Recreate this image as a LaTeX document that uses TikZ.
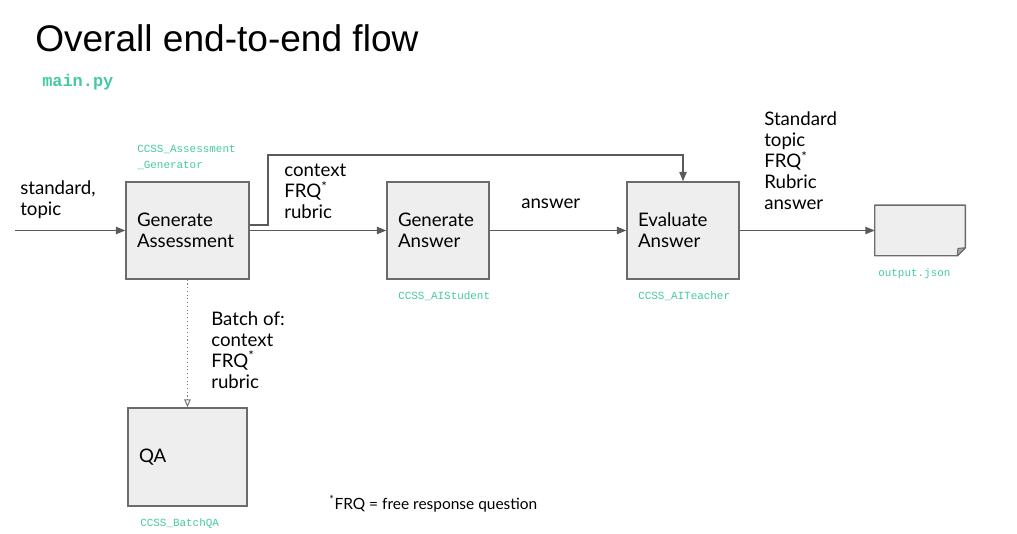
\documentclass[tikz,border=0pt]{standalone}
\usepackage{fontspec}
\setmainfont{Lato}
\newfontfamily\titlefont{Liberation Sans}
\newfontfamily\codefont{Liberation Mono}
\usetikzlibrary{arrows.meta}
\definecolor{codeteal}{HTML}{45C9A2}
\definecolor{boxfill}{HTML}{EEEEEE}
\definecolor{boxline}{HTML}{6B6B6B}
\definecolor{arrowgray}{HTML}{5A5A5A}
\begin{document}
\begin{tikzpicture}[x=0.75pt,y=-0.75pt,
  box/.style={draw=boxline, fill=boxfill, line width=1.1pt, align=left,
    inner xsep=8.25pt, inner ysep=0pt, font=\fontsize{14}{15.75}\selectfont},
  lbl/.style={anchor=base west, inner sep=0pt, align=left,
    font=\fontsize{14}{15.75}\selectfont},
  code/.style={anchor=base west, inner sep=0pt, text=codeteal,
    font=\codefont\fontsize{8.2}{12}\selectfont},
  arr/.style={draw=arrowgray, line width=0.9pt, -{Triangle[length=7pt,width=5.5pt]}},
  dotarr/.style={draw=arrowgray!80, line width=0.8pt, dotted,
    -{Triangle[open,length=6pt,width=5pt]}}
]
\useasboundingbox (0,0) rectangle (1017,534);

% title
\node[anchor=base west, inner sep=0pt, font=\titlefont\fontsize{27.8}{30}\selectfont] (title) at (35,52) {Overall end-to-end flow};
\node[anchor=base west, inner sep=0pt, text=codeteal, font=\codefont\bfseries\fontsize{12.7}{14}\selectfont] (main) at (42,87) {main.py};

% boxes
\node[box, minimum width=92.25pt, minimum height=72.75pt, text width=75.75pt] (ga) at (187.5,230.5) {Generate\\Assessment};
\node[box, minimum width=76.5pt, minimum height=72.75pt, text width=60pt] (gans) at (438,230.5) {Generate\\Answer};
\node[box, minimum width=84pt, minimum height=72.75pt, text width=67.5pt] (eval) at (683,230.5) {Evaluate\\Answer};
\node[box, minimum width=89.25pt, minimum height=73.5pt, text width=72.75pt] (qa) at (187.5,457) {QA};

% output document
\node[minimum width=67.5pt, minimum height=37.5pt, inner sep=0pt] (out) at (920,230.5) {};
\fill[boxfill] (out.north west) -- (out.north east) -- ([yshift=6pt]out.south east) -- ([xshift=-6pt]out.south east) -- (out.south west) -- cycle;
\draw[boxline, line width=1.1pt, line join=round] (out.north west) -- (out.north east) -- ([yshift=6pt]out.south east) -- ([xshift=-6pt]out.south east) -- (out.south west) -- cycle;
\draw[boxline, fill=boxline!60, line width=0.8pt, line join=round] ([yshift=6pt]out.south east) -- ([xshift=-5.5pt,yshift=5.5pt]out.south east) -- ([xshift=-6pt]out.south east) -- cycle;

% code labels
\node[code] (cg1) at (137,153) {CCSS\_Assessment};
\node[code] (cg2) at (137,169) {\_Generator};
\node[code] (cst) at (398,300) {CCSS\_AIStudent};
\node[code] (cte) at (638,300) {CCSS\_AITeacher};
\node[code] (cjs) at (878,277) {output.json};
\node[code] (cqa) at (140,526) {CCSS\_BatchQA};

% connectors
\coordinate (in) at (15,230.5);
\draw[arr] (in) -- (ga.west);
\draw[arr] (ga.east) -- (gans.west);
\draw[arr] (gans.east) -- (eval.west);
\draw[arr] (eval.east) -- (out.west);
\coordinate (bend) at (268,155);
\draw[arr] ([yshift=4.1pt]ga.east) -| (bend) -| (eval.north);
\draw[dotarr] (ga.south) -- (qa.north);

% text labels (base = last line)
\node[lbl] (lin) at (20,216) {standard,\\topic};
\node[lbl] (lctx) at (284,219) {context\\FRQ\textsuperscript{*}\\rubric};
\node[lbl] (lans) at (521,209) {answer};
\node[lbl] (lout) at (764,210) {Standard\\topic\\FRQ\textsuperscript{*}\\Rubric\\answer};
\node[lbl] (lbatch) at (211,388) {Batch of:\\context\\FRQ\textsuperscript{*}\\rubric};
\node[lbl, font=\fontsize{11.6}{14}\selectfont] (lnote) at (329,509) {\textsuperscript{*}FRQ = free response question};
\end{tikzpicture}
\end{document}
